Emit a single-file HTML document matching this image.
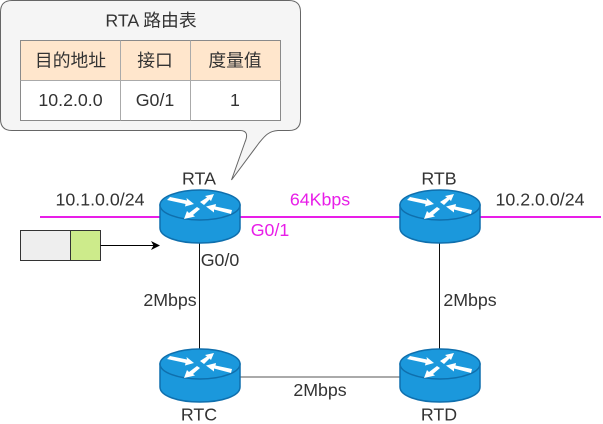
<!DOCTYPE html>
<html><head><meta charset="utf-8">
<style>html,body{margin:0;padding:0;background:#fff;width:603px;height:424px;overflow:hidden}
svg{display:block}
text{font-family:"Liberation Sans","Noto Sans CJK SC",sans-serif;font-size:17.8px;fill:#333;text-anchor:middle}
</style></head><body>
<svg width="603" height="424" viewBox="0 0 603 424" xmlns="http://www.w3.org/2000/svg">
<defs>
<g id="r">
<path d="M0,15 V38 C0,47 18,53 40,53 C62,53 80,47 80,38 V15 Z" fill="#1b98dc" stroke="#0f6fad" stroke-width="1.500"/>
<ellipse cx="40" cy="15" rx="40" ry="15" fill="#1b98dc" stroke="#0f6fad" stroke-width="1.500"/>
<g fill="#fff">
<path d="M7,10 L10,7 L27,10.500 L26.500,8 L34,14 L25,16.500 L25.500,14 Z"/>
<path d="M40,12 L47,7.500 L45,6 L54,4 L51,11 L49.500,9.500 L44,15 Z"/>
<path d="M72,20 L71,24 L54,19.500 L54,22.500 L46,16.500 L56,14 L55.500,16.500 Z"/>
<path d="M40,19 L33,25 L35,26.500 L24,29 L27,21 L29,23 L37,17 Z"/>
</g>
</g>
</defs>
<path d="M12,0.500 H289 Q300.500,0.500 300.500,12 V119 Q300.500,130.500 289,130.500 H278 C268,131 264,137 259,143 L231.500,180 L245,142 C248,135 247,130.500 240,130.500 H12 Q0.500,130.500 0.500,119 V12 Q0.500,0.500 12,0.500 Z" fill="#f5f5f5" stroke="#666" stroke-width="1"/>
<text x="151" y="26.500">RTA 路由表</text>
<rect x="20.500" y="40.500" width="260" height="40" fill="#ffe6cc"/>
<rect x="20.500" y="80.500" width="260" height="40" fill="#fff"/>
<rect x="20.500" y="40.500" width="260" height="80" fill="none" stroke="#8a8a8a"/>
<path d="M20.500,80.500 H280.500 M120.500,40.500 V120.500 M190.500,40.500 V120.500" stroke="#aaa" fill="none"/>
<text x="70.500" y="66.500">目的地址</text>
<text x="155" y="66.500">接口</text>
<text x="235" y="66.500">度量值</text>
<text x="70.500" y="106">10.2.0.0</text>
<text x="155" y="106">G0/1</text>
<text x="235" y="106">1</text>

<path d="M40,217 H160" stroke="#e81ee8" stroke-width="2"/>
<path d="M240,217 H400" stroke="#e81ee8" stroke-width="2"/>
<path d="M480,217 H601" stroke="#e81ee8" stroke-width="2"/>
<path d="M199.500,243 V349" stroke="#111" stroke-width="1"/>
<path d="M439.500,243 V349" stroke="#111" stroke-width="1"/>
<path d="M240,377 H400" stroke="#555" stroke-width="1"/>

<use href="#r" x="160" y="190"/>
<use href="#r" x="400" y="190"/>
<use href="#r" x="160" y="349"/>
<use href="#r" x="400" y="349"/>

<rect x="20.500" y="230.500" width="50" height="30" fill="#eeeeee" stroke="#333"/>
<rect x="70.500" y="230.500" width="30" height="30" fill="#cdeb8b" stroke="#333"/>
<path d="M100.500,245.500 H154" stroke="#000" stroke-width="1"/>
<path d="M160,245.500 L151,241 L153.500,245.500 L151,250 Z" fill="#000"/>

<text x="199" y="184.500">RTA</text>
<text x="439" y="184.500">RTB</text>
<text x="199" y="420.500">RTC</text>
<text x="439" y="420.500">RTD</text>
<text x="100" y="205.500">10.1.0.0/24</text>
<text x="540" y="205.500">10.2.0.0/24</text>
<text x="320" y="205.500" style="fill:#e81ee8">64Kbps</text>
<text x="270" y="236" style="fill:#e81ee8">G0/1</text>
<text x="220" y="266">G0/0</text>
<text x="170" y="306">2Mbps</text>
<text x="470" y="306">2Mbps</text>
<text x="320" y="396">2Mbps</text>
</svg>
</body></html>
